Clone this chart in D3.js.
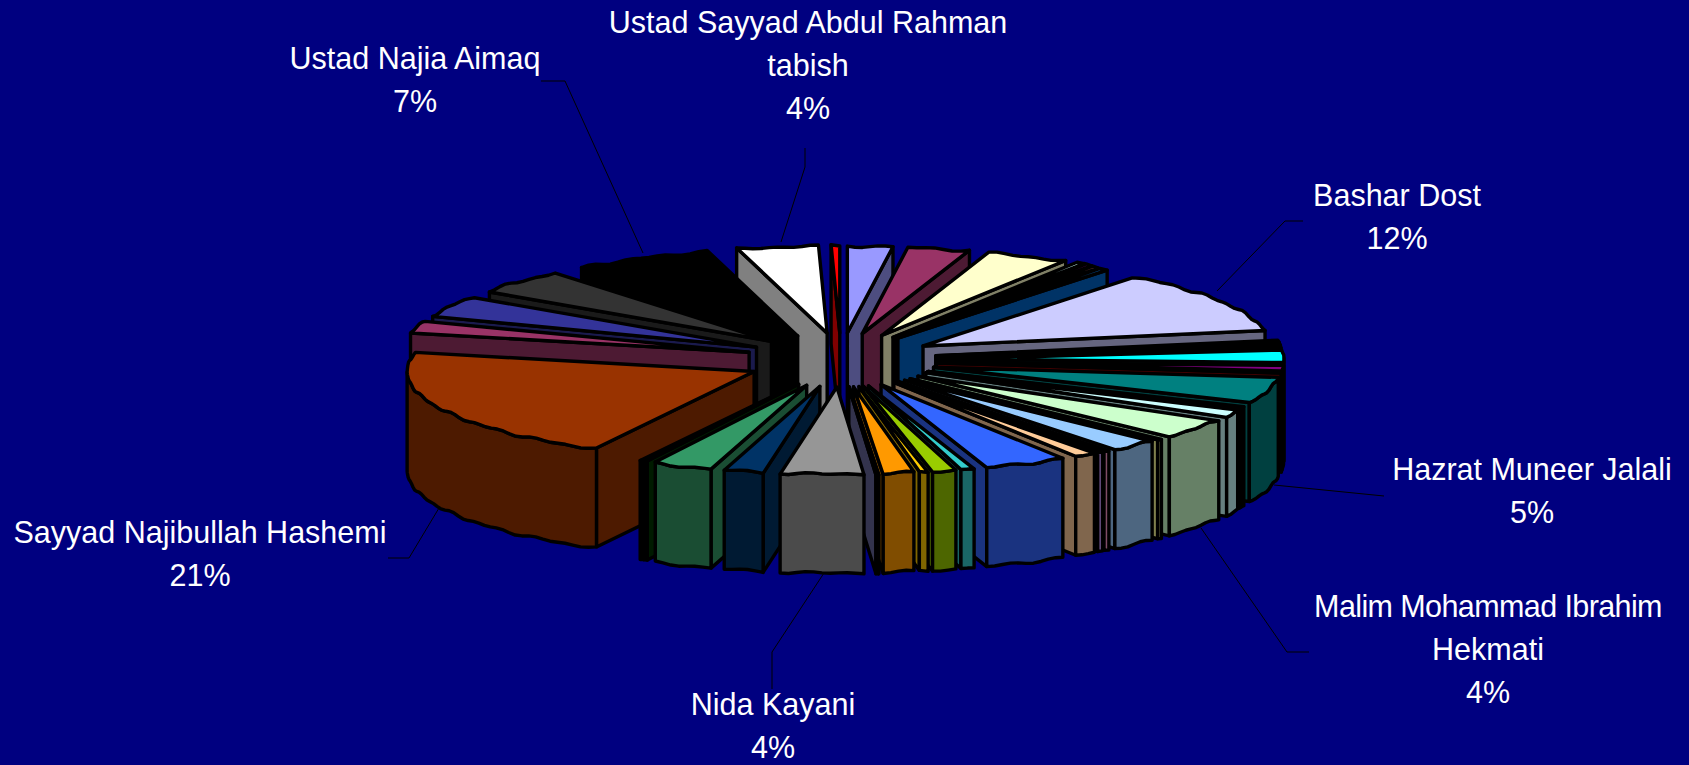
<!DOCTYPE html>
<html><head><meta charset="utf-8">
<script src="https://cdn.jsdelivr.net/npm/d3@7/dist/d3.min.js"></script>
<style>html,body{margin:0;padding:0;background:#000080;overflow:hidden}svg{display:block}</style>
</head><body><svg id="c" width="1689" height="765"></svg>
<script>
const shares = [2.1,2.9,3.9,0.4,0.3,0.3,0.4,12,0.3,0.3,0.3,2.36,1.1,0.14,5,0.25,0.17,1.08,3.8,0.25,2.28,0.28,0.28,1.03,3.85,0.63,1.1,0.41,1.42,0.02,0.1,3.86,1.83,2.74,0.16,0.16,21,2.34,4.05,4.4,6.5,3.8,0.4];
const colours = ["#9999FF","#993366","#FFFFCC","#CCFFFF","#660066","#FF8080","#0066CC","#CCCCFF","#000080","#FF00FF","#FFFF00","#00FFFF","#800080","#800000","#008080","#0000FF","#00CCFF","#CCFFFF","#CCFFCC","#FFFF99","#99CCFF","#FF99CC","#CC99FF","#FFCC99","#3366FF","#33CCCC","#99CC00","#FFCC00","#FF9900","#FF6600","#666699","#969696","#003366","#339966","#003300","#003300","#993300","#993366","#333399","#333333","#000000","#FFFFFF","#FF0000"];
const labelLines = [
  ["Ustad Sayyad Abdul Rahman","tabish","4%"],
  ["Ustad Najia Aimaq","7%"],
  ["Bashar Dost","12%"],
  ["Hazrat Muneer Jalali","5%"],
  ["Malim Mohammad Ibrahim","Hekmati","4%"],
  ["Nida Kayani","4%"],
  ["Sayyad Najibullah Hashemi","21%"]
];
const labelX = [808,415,1397,1532,1488,773,200];
const labelY = [33,69,206,480,617,715,543];
const labelSpacing = [0,0,0,0,-0.6,0,0];
const leaders = [
  [[781,242],[805,167],[805,148]],
  [[643,253],[565,81],[541,81]],
  [[1217,291],[1285,221],[1303,221]],
  [[1274,485],[1384,496]],
  [[1201,528],[1287,652],[1309,652]],
  [[824,573],[772,652],[772,689]],
  [[439,508],[409,558],[388,558]]
];

const cx=841, cy=360, rx=347, ry=87, ex=96, ey=27, depth=99;
const svg=d3.select("#c");
svg.append("rect").attr("width",1689).attr("height",765).attr("fill","#000080");

const pie=d3.pie().sort(null).value(d=>d.v).startAngle(0).endAngle(2*Math.PI);
const arcs=pie(shares.map((v,i)=>({v,c:colours[i]})));
const scaleX=d3.scaleLinear().domain([-1,1]).range([-rx,rx]);
const scaleY=d3.scaleLinear().domain([-1,1]).range([ry,-ry]);
const line=d3.line().curve(d3.curveLinearClosed);
const STEP=1.5*Math.PI/180;

function rim(a0,a1){
  const pts=[];
  const n=Math.max(1,Math.ceil((a1-a0)/STEP));
  for(let k=0;k<=n;k++){pts.push(a0+(a1-a0)*k/n);}
  return pts;
}
function drawSlice(g,d){
  const mid=(d.startAngle+d.endAngle)/2;
  const ax=cx+ex*Math.sin(mid), ay=cy-ey*Math.cos(mid);
  // the reference's rim is slightly ragged: a small fixed ripple on the outline
  const P=(t,h=0)=>[ax+scaleX(Math.sin(t)), ay+scaleY(Math.cos(t))+h+0.8*Math.sin(52*t)+0.7*Math.sin(31*t)];
  const O=(h=0)=>[ax,ay+h];
  const top=d.data.c;
  const wall=d3.rgb(top); const dark=d3.rgb(wall.r*.5,wall.g*.5,wall.b*.5).formatHex();
  const sty=s=>s.attr("stroke","#000").attr("stroke-width",3.4).attr("stroke-linejoin","round");
  const a0=d.startAngle,a1=d.endAngle;
  if(a0>Math.PI) sty(g.append("path").attr("d",line([O(),P(a0),P(a0,depth),O(depth)])).attr("fill",dark));
  if(a1<Math.PI) sty(g.append("path").attr("d",line([O(),P(a1),P(a1,depth),O(depth)])).attr("fill",dark));
  const b0=Math.max(a0,Math.PI/2), b1=Math.min(a1,1.5*Math.PI);
  if(b1>b0){
    const ts=rim(b0,b1);
    const pts=ts.map(t=>P(t)).concat(ts.slice().reverse().map(t=>P(t,depth)));
    sty(g.append("path").attr("d",line(pts)).attr("fill",dark));
  }
  sty(g.append("path").attr("d",line([O()].concat(rim(a0,a1).map(t=>P(t))))).attr("fill",top));
}
const order=arcs.slice().sort((p,q)=>Math.cos((q.startAngle+q.endAngle)/2)-Math.cos((p.startAngle+p.endAngle)/2));
const gp=svg.append("g");
order.forEach(d=>drawSlice(gp.append("g"),d));

const ll=d3.line();
leaders.forEach(p=>svg.append("path").attr("d",ll(p)).attr("fill","none").attr("stroke","#000").attr("stroke-width",1));

const lineGap=43;
labelLines.forEach((ls,i)=>{
  const t=svg.append("text").attr("text-anchor","middle").attr("fill","#fff")
    .attr("font-family","'Liberation Sans',Arial,sans-serif").attr("font-size",30.5);
  ls.forEach((s,j)=>t.append("tspan").attr("x",labelX[i]).attr("y",labelY[i]+j*lineGap)
    .attr("letter-spacing",j===0?labelSpacing[i]:0).text(s));
});
</script></body></html>
